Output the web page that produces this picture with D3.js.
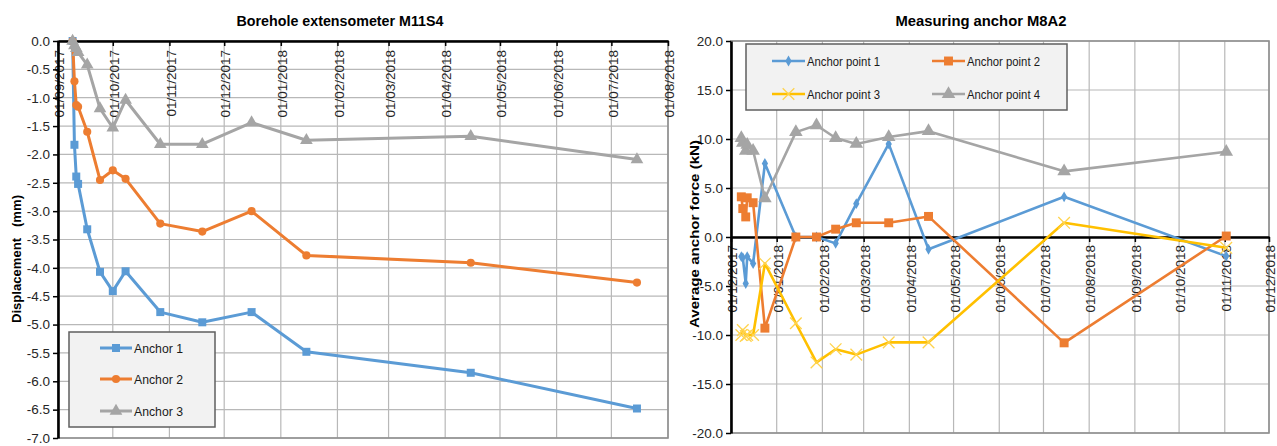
<!DOCTYPE html>
<html>
<head>
<meta charset="utf-8">
<script src="https://cdn.jsdelivr.net/npm/d3@7"></script>
<style>
    html, body { margin: 0; padding: 0; background: #fff; }
    svg { display: block; font-family: "Liberation Sans", Arial, sans-serif; }
</style>
</head>
<body>
<svg id="chart" width="1277" height="446"></svg>
<script>
// Borehole extensometer M11S4 (displacement, mm)
const extDates = ["2017-09-09", "2017-09-10", "2017-09-11", "2017-09-12", "2017-09-17", "2017-09-24", "2017-10-01",
    "2017-10-08", "2017-10-27", "2017-11-19", "2017-12-16", "2018-01-15", "2018-04-15", "2018-07-15"];
const anchor1 = [0.0, -1.83, -2.39, -2.52, -3.32, -4.07, -4.41, -4.06, -4.78, -4.96, -4.78, -5.48, -5.85, -6.48];
const anchor2 = [0.0, -0.71, -1.13, -1.16, -1.60, -2.45, -2.28, -2.43, -3.22, -3.36, -3.00, -3.78, -3.91, -4.26];
const anchor3 = [0.0, -0.08, -0.13, -0.20, -0.42, -1.19, -1.53, -1.04, -1.82, -1.82, -1.44, -1.75, -1.68, -2.09];
const extNames = ["Anchor 1", "Anchor 2", "Anchor 3"];

// Measuring anchor M8A2 (average anchor force, kN)
const mesDates = ["2017-12-08", "2017-12-09", "2017-12-11", "2017-12-12", "2017-12-16", "2017-12-24", "2018-01-14",
    "2018-01-28", "2018-02-10", "2018-02-24", "2018-03-18", "2018-04-14", "2018-07-15", "2018-11-02"];
const point1 = [-2.0, -2.1, -4.75, -2.0, -2.7, 7.5, 0.0, 0.0, -0.65, 3.4, 9.5, -1.25, 4.1, -1.95];
const point2 = [4.1, 2.9, 2.05, 4.0, 3.5, -9.3, 0.0, 0.0, 0.8, 1.45, 1.45, 2.1, -10.8, 0.1];
const point3 = [-10.0, -9.5, -10.1, -10.0, -10.0, -2.7, -8.8, -12.8, -11.45, -12.0, -10.75, -10.75, 1.45, -1.1];
const point4 = [10.1, 9.6, 8.8, 9.4, 8.8, 3.95, 10.7, 11.4, 10.1, 9.5, 10.2, 10.8, 6.7, 8.7];
const mesNames = ["Anchor point 1", "Anchor point 2", "Anchor point 3", "Anchor point 4"];

const parse = d3.timeParse("%Y-%m-%d");
const fmt = d3.timeFormat("%d/%m/%Y");
const timesSym = d3.symbolTimes || d3.symbolCross;

const svg = d3.select("#chart");

function drawMarker(sel, m, x, y) {
    let path = d3.symbol().type(m.type).size(m.size)();
    let p = sel.append("path")
        .attr("d", path)
        .attr("transform", "translate(" + x + "," + y + ")" + (m.rot ? " rotate(45)" : ""));
    if (m.hollow) p.attr("fill", "none").attr("stroke", m.color).attr("stroke-width", 1.3);
    else p.attr("fill", m.color);
}

function lineChart(o) {
    let x = d3.scaleTime().domain(o.xDomain.map(parse)).range([o.left, o.right]);
    let y = d3.scaleLinear().domain(o.yDomain).range([o.bottom, o.top]);
    let dates = o.dates.map(parse);
    let months = d3.timeMonth.range(x.domain()[0], d3.timeDay.offset(x.domain()[1], 1));
    let yTicks = d3.range(o.yDomain[0], o.yDomain[1] + o.yStep / 2, o.yStep);
    let g = svg.append("g");

    // grid
    g.append("g").selectAll("line").data(months).join("line")
        .attr("x1", x).attr("x2", x).attr("y1", o.top).attr("y2", o.bottom)
        .attr("stroke", "#b8b8b8").attr("stroke-width", 1.2);
    g.append("g").selectAll("line").data(yTicks).join("line")
        .attr("x1", o.left).attr("x2", o.right).attr("y1", y).attr("y2", y)
        .attr("stroke", "#b8b8b8").attr("stroke-width", 1.2);

    // plot frame
    g.append("rect")
        .attr("x", o.left).attr("y", o.top)
        .attr("width", o.right - o.left).attr("height", o.bottom - o.top)
        .attr("fill", "none").attr("stroke", "#8f8f8f").attr("stroke-width", 1.6);

    // x axis on the zero line, labels turned
    let xg = g.append("g")
        .attr("transform", "translate(0," + y(0) + ")")
        .call(d3.axisBottom(x).tickValues(months).tickFormat(fmt).tickSize(5).tickSizeOuter(0));
    xg.select(".domain").attr("stroke", "#000").attr("stroke-width", 2.6);
    xg.selectAll(".tick line").attr("stroke", "#000").attr("stroke-width", 1.5);
    xg.selectAll("text")
        .attr("transform", "rotate(-90)")
        .attr("x", -o.xLabelGap).attr("y", 1).attr("dy", "0.35em")
        .style("text-anchor", "end")
        .style("font-size", "13.5px").style("font-family", "'Liberation Sans', Arial, sans-serif")
        .attr("fill", "#262626");

    let yg = g.append("g")
        .attr("transform", "translate(" + o.left + ",0)")
        .call(d3.axisLeft(y).tickValues(yTicks).tickFormat(d => d.toFixed(1)).tickSize(5).tickPadding(3).tickSizeOuter(0));
    yg.select(".domain").attr("stroke", "#000").attr("stroke-width", 2.6);
    yg.selectAll(".tick line").attr("stroke", "#000").attr("stroke-width", 1.5);
    yg.selectAll("text")
        .style("font-size", "13.5px").style("font-family", "'Liberation Sans', Arial, sans-serif")
        .attr("fill", "#262626");

    // series
    let line = d3.line().x((d, i) => x(dates[i])).y(d => y(d));
    o.series.forEach(s => {
        g.append("path")
            .datum(s.values)
            .attr("d", line)
            .attr("fill", "none")
            .attr("stroke", s.color)
            .attr("stroke-width", o.lineW)
            .attr("stroke-linejoin", "round");
        let mg = g.append("g");
        s.values.forEach((v, i) => drawMarker(mg, s.marker, x(dates[i]), y(v)));
    });

    // title and y label
    svg.append("text")
        .attr("x", o.titleX).attr("y", 26)
        .attr("text-anchor", "middle")
        .attr("textLength", o.titleW).attr("lengthAdjust", "spacingAndGlyphs")
        .style("font-size", "15px").style("font-weight", "bold")
        .text(o.title);
    svg.append("text")
        .attr("transform", "translate(" + o.yLabelX + "," + o.yLabelY + ") rotate(-90)")
        .attr("text-anchor", "middle")
        .attr("textLength", o.yLabelW).attr("lengthAdjust", "spacingAndGlyphs")
        .style("font-size", "13.5px").style("font-weight", "bold")
        .style("white-space", "pre")
        .text(o.yLabel);

    // legend
    let L = o.legend;
    svg.append("rect")
        .attr("x", L.x).attr("y", L.y).attr("width", L.w).attr("height", L.h)
        .attr("fill", "#f2f2f2").attr("stroke", "#5f5f5f").attr("stroke-width", 1.5);
    o.series.forEach((s, i) => {
        let lx = L.cols[i % L.cols.length], ly = L.rows[Math.floor(i / L.cols.length)];
        svg.append("line")
            .attr("x1", lx).attr("x2", lx + L.sample).attr("y1", ly).attr("y2", ly)
            .attr("stroke", s.color).attr("stroke-width", o.lineW);
        drawMarker(svg, s.marker, lx + L.sample / 2, ly);
        svg.append("text")
            .attr("x", lx + L.sample + 2).attr("y", ly).attr("dy", "0.36em")
            .attr("textLength", L.textW).attr("lengthAdjust", "spacingAndGlyphs")
            .style("font-size", "13.5px").attr("fill", "#1a1a1a")
            .text(s.name);
    });
}

lineChart({
    left: 58, right: 668, top: 41, bottom: 438,
    xDomain: ["2017-09-01", "2018-08-01"], yDomain: [-7, 0], yStep: 0.5,
    xLabelGap: 9, lineW: 3,
    dates: extDates,
    series: [
        {name: extNames[0], values: anchor1, color: "#5b9bd5", marker: {type: d3.symbolSquare, size: 64, color: "#5b9bd5"}},
        {name: extNames[1], values: anchor2, color: "#ed7d31", marker: {type: d3.symbolCircle, size: 52, color: "#ed7d31"}},
        {name: extNames[2], values: anchor3, color: "#a5a5a5", marker: {type: d3.symbolTriangle, size: 70, color: "#a5a5a5"}}
    ],
    title: "Borehole extensometer M11S4", titleX: 340, titleW: 207,
    yLabel: "Displacement   (mm)", yLabelX: 21, yLabelY: 259, yLabelW: 128,
    legend: {x: 69, y: 332, w: 146, h: 95, cols: [100], rows: [348, 379, 411], sample: 32, textW: 49}
});

lineChart({
    left: 731, right: 1269, top: 41, bottom: 433,
    xDomain: ["2017-12-01", "2018-12-01"], yDomain: [-20, 20], yStep: 5,
    xLabelGap: 8, lineW: 2.6,
    dates: mesDates,
    series: [
        {name: mesNames[0], values: point1, color: "#5b9bd5", marker: {type: d3.symbolDiamond, size: 34, color: "#5b9bd5"}},
        {name: mesNames[1], values: point2, color: "#ed7d31", marker: {type: d3.symbolSquare, size: 80, color: "#ed7d31"}},
        {name: mesNames[2], values: point3, color: "#ffc000", marker: {type: timesSym, size: 90, color: "#ffd34d", hollow: true, rot: !d3.symbolTimes}},
        {name: mesNames[3], values: point4, color: "#a5a5a5", marker: {type: d3.symbolTriangle, size: 80, color: "#a5a5a5"}}
    ],
    title: "Measuring anchor M8A2", titleX: 981, titleW: 171,
    yLabel: "Average anchor force (kN)", yLabelX: 699, yLabelY: 234, yLabelW: 188,
    legend: {x: 746, y: 44, w: 321, h: 66, cols: [772, 932], rows: [61, 94], sample: 33, textW: 73}
});
</script>
</body>
</html>
